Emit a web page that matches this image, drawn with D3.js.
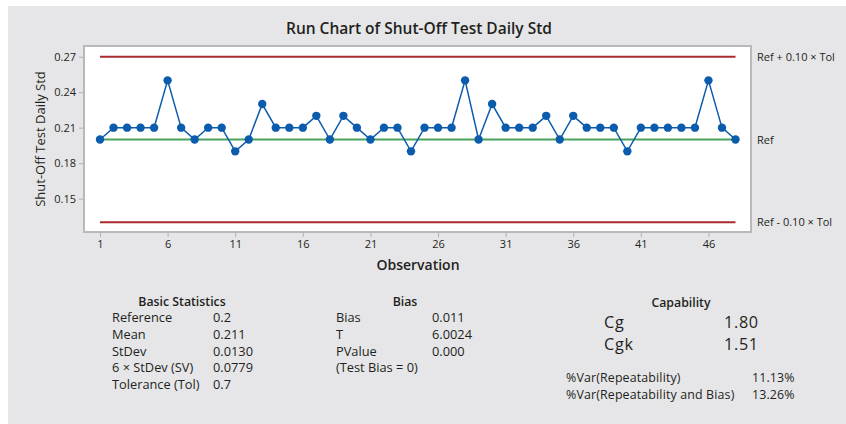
<!DOCTYPE html>
<html><head><meta charset="utf-8">
<script src="https://cdn.jsdelivr.net/npm/d3@7"></script>
<style>
html,body{margin:0;padding:0;background:#fff;}
text{font-family:"Open Sans","Noto Sans",sans-serif;fill:#231f20;}
</style></head>
<body>
<svg id="chart" width="846" height="424"></svg>
<script>
// ---- data ----
const observations = d3.range(1, 49);
const dailyStd = [0.20,0.21,0.21,0.21,0.21,0.25,0.21,0.20,0.21,0.21,
                  0.19,0.20,0.23,0.21,0.21,0.21,0.22,0.20,0.22,0.21,
                  0.20,0.21,0.21,0.19,0.21,0.21,0.21,0.25,0.20,0.23,
                  0.21,0.21,0.21,0.22,0.20,0.22,0.21,0.21,0.21,0.19,
                  0.21,0.21,0.21,0.21,0.21,0.25,0.21,0.20];
const yTicks = [0.15, 0.18, 0.21, 0.24, 0.27];
const xTicks = [1, 6, 11, 16, 21, 26, 31, 36, 41, 46];
const refValue = 0.2;
const tolerance = 0.7;
const refLines = [
  {value: refValue + 0.10 * tolerance, label: "Ref + 0.10 × Tol", kind: "limit"},
  {value: refValue, label: "Ref", kind: "ref"},
  {value: refValue - 0.10 * tolerance, label: "Ref - 0.10 × Tol", kind: "limit"}
];
const basicLabels = ["Reference", "Mean", "StDev", "6 × StDev (SV)", "Tolerance (Tol)"];
const basicValues = ["0.2", "0.211", "0.0130", "0.0779", "0.7"];
const biasLabels = ["Bias", "T", "PValue", "(Test Bias = 0)"];
const biasValues = ["0.011", "6.0024", "0.000", ""];
const capLabels = ["Cg", "Cgk"];
const capValues = ["1.80", "1.51"];
const varLabels = ["%Var(Repeatability)", "%Var(Repeatability and Bias)"];
const varValues = ["11.13%", "13.26%"];

// ---- drawing ----
const svg = d3.select("#chart");
svg.append("rect").attr("x", 8).attr("y", 6).attr("width", 838).attr("height", 418).attr("fill", "#e6e6e8");

const box = {left: 84, top: 46, right: 751, bottom: 232};
const x = d3.scaleLinear().domain([1, 48]).range([100, 735.5]);
const y = d3.scaleLinear().domain([0.13, 0.27]).range([222.3, 56.7]);

svg.append("rect").attr("x", box.left).attr("y", box.top)
  .attr("width", box.right - box.left).attr("height", box.bottom - box.top)
  .attr("fill", "#fff").attr("stroke", "#b9b9bb").attr("stroke-width", 2);

svg.append("text").attr("x", 419).attr("y", 34).attr("text-anchor", "middle")
  .style("font-size", "15.5px").style("font-weight", 600).text("Run Chart of Shut-Off Test Daily Std");

// axes
const yAxis = svg.append("g").attr("transform", `translate(${box.left - 1},0)`)
  .call(d3.axisLeft(y).tickValues(yTicks).tickFormat(d3.format(".2f")).tickSize(4).tickPadding(3));
yAxis.select(".domain").remove();
yAxis.selectAll("line").attr("stroke", "#b0b0b2");
yAxis.selectAll("text").style("font-size", "11px").style("font-family", '"Open Sans",sans-serif').attr("fill", "#231f20");

const xAxis = svg.append("g").attr("transform", `translate(0,${box.bottom + 1})`)
  .call(d3.axisBottom(x).tickValues(xTicks).tickFormat(d3.format("d")).tickSize(4).tickPadding(3));
xAxis.select(".domain").remove();
xAxis.selectAll("line").attr("stroke", "#b0b0b2");
xAxis.selectAll("text").style("font-size", "11px").style("font-family", '"Open Sans",sans-serif').attr("fill", "#231f20");

svg.append("text").attr("x", 418).attr("y", 270).attr("text-anchor", "middle")
  .style("font-size", "14px").style("font-weight", 600).text("Observation");
svg.append("text").attr("transform", "translate(45,139) rotate(-90)").attr("text-anchor", "middle")
  .style("font-size", "13px").style("font-weight", 500).text("Shut-Off Test Daily Std");

// reference lines
svg.selectAll("line.ref").data(refLines).enter().append("line").attr("class", "ref")
  .attr("x1", x(1)).attr("x2", x(48))
  .attr("y1", d => y(d.value)).attr("y2", d => y(d.value))
  .attr("stroke", d => d.kind === "ref" ? "#4aa35c" : "#ab2a30").attr("stroke-width", 2);
svg.selectAll("text.reflab").data(refLines).enter().append("text").attr("class", "reflab")
  .attr("x", 757).attr("y", d => y(d.value) + 4).style("font-size", "11px").text(d => d.label);

// series
const line = d3.line().x((d, i) => x(observations[i])).y(d => y(d));
svg.append("path").datum(dailyStd).attr("d", line).attr("fill", "none")
  .attr("stroke", "#0b5cad").attr("stroke-width", 1.5);
svg.selectAll("circle.pt").data(dailyStd).enter().append("circle").attr("class", "pt")
  .attr("cx", (d, i) => x(observations[i])).attr("cy", d => y(d)).attr("r", 4.2)
  .attr("fill", "#0b5cad");

// stats tables
const fs = "12.8px";
svg.append("text").attr("x", 182).attr("y", 306).attr("text-anchor", "middle").style("font-size", "12.3px").style("font-weight", 600).text("Basic Statistics");
basicLabels.forEach((t, i) => {
  svg.append("text").attr("x", 112).attr("y", 322 + i * 16.8).style("font-size", fs).text(t);
  svg.append("text").attr("x", 213).attr("y", 322 + i * 16.8).style("font-size", fs).text(basicValues[i]);
});
svg.append("text").attr("x", 405).attr("y", 306).attr("text-anchor", "middle").style("font-size", "12.3px").style("font-weight", 600).text("Bias");
biasLabels.forEach((t, i) => {
  svg.append("text").attr("x", 336).attr("y", 322 + i * 16.8).style("font-size", fs).text(t);
  svg.append("text").attr("x", 432).attr("y", 322 + i * 16.8).style("font-size", fs).text(biasValues[i]);
});
svg.append("text").attr("x", 681).attr("y", 307).attr("text-anchor", "middle").style("font-size", "12.3px").style("font-weight", 600).text("Capability");
capLabels.forEach((t, i) => {
  svg.append("text").attr("x", 604).attr("y", 328 + i * 22.2).style("font-size", "16.2px").style("letter-spacing", "0.7px").style("font-weight", 500).text(t);
  svg.append("text").attr("x", 724).attr("y", 328 + i * 22.2).style("font-size", "16.2px").style("letter-spacing", "0.7px").style("font-weight", 500).text(capValues[i]);
});
varLabels.forEach((t, i) => {
  svg.append("text").attr("x", 566).attr("y", 381.5 + i * 17).style("font-size", "12.4px").style("letter-spacing", "0.15px").text(t);
  svg.append("text").attr("x", 752).attr("y", 381.5 + i * 17).style("font-size", "12.4px").style("letter-spacing", "0.15px").text(varValues[i]);
});
</script>
</body></html>
